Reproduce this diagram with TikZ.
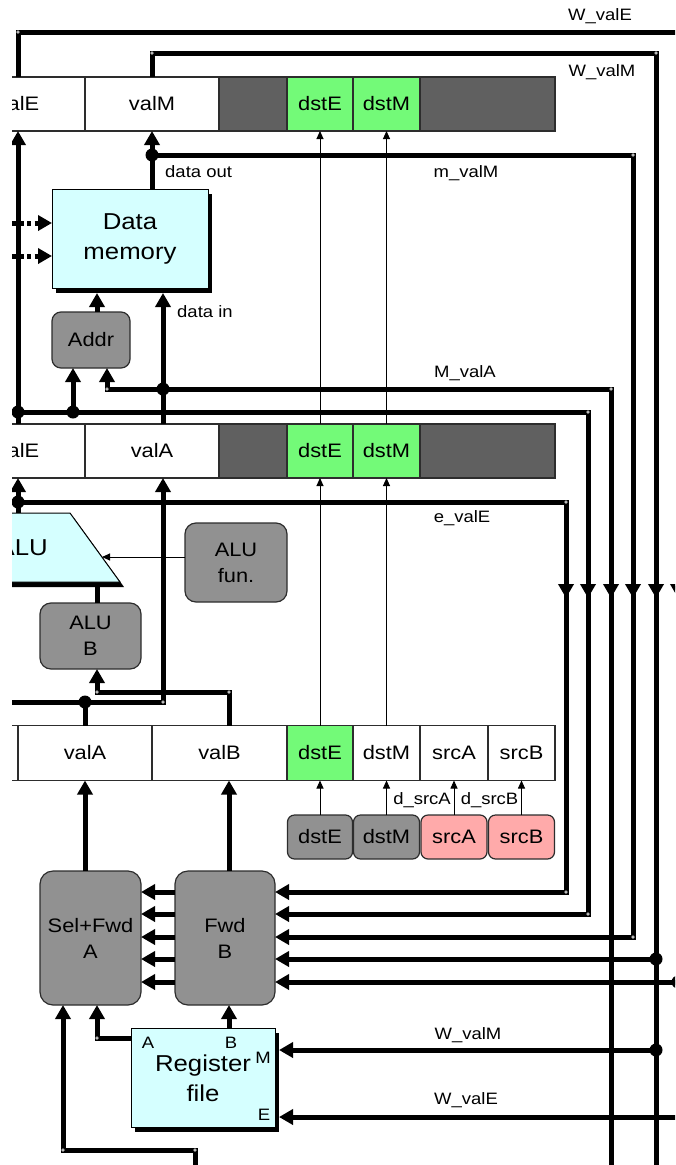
\documentclass[tikz,border=0pt]{standalone}
\usepackage{fontspec}
\setmainfont{Liberation Sans}[FakeStretch=1.12]
\usetikzlibrary{arrows.meta,calc,shadows}
\definecolor{cyanfill}{RGB}{213,255,255}
\definecolor{boxgray}{RGB}{145,145,145}
\definecolor{darkfld}{RGB}{96,96,96}
\definecolor{greenfld}{RGB}{115,250,120}
\definecolor{pinkfld}{RGB}{255,170,170}
\definecolor{bord}{RGB}{45,45,45}
\newcommand\fmain{\fontsize{19.5}{26}\selectfont}
\newcommand\fbig{\fontsize{23}{30}\selectfont}
\newcommand\fsmall{\fontsize{16.5}{20}\selectfont}
\begin{document}
\begin{tikzpicture}[x=1pt,y=-1pt,
 fld/.style={draw=bord,line width=1.2pt,minimum height=54pt,inner sep=0pt,outer sep=0pt,font=\fmain,fill=white},
 dk/.style={fld,fill=darkfld},
 gr/.style={fld,fill=greenfld},
 rbox/.style={draw=bord,line width=1.2pt,fill=boxgray,rounded corners=9pt,inner sep=0pt,outer sep=0pt,font=\fmain,align=center},
 pbox/.style={rbox,fill=pinkfld},
 cbox/.style={draw=black,line width=1pt,fill=cyanfill,inner sep=0pt,outer sep=0pt,align=center},
 dshadow/.style={drop shadow={shadow xshift=4pt,shadow yshift=-5pt,fill=black,opacity=1}},
 wire/.style={line width=5pt},
 thinw/.style={line width=0.9pt},
 wa/.style={wire,-{Triangle[length=14pt,width=15pt]}},
 ta/.style={thinw,-{Triangle[length=8pt,width=7pt]}},
 dot/.style={circle,fill=black,minimum size=13pt,inner sep=0pt,outer sep=0pt},
 cdot/.style={circle,fill=white,draw=gray,line width=0.4pt,minimum size=3pt,inner sep=0pt,outer sep=0pt},
 lbl/.style={font=\fsmall,inner sep=0pt},
]
\useasboundingbox (0,0) rectangle (675,1165);
\fill[white] (0,0) rectangle (675,1165);
\clip (12,0) rectangle (675,1165);

% ---------- W register ----------
\node[fld,minimum width=134pt] (WvalE) at (18,104) {valE};
\node[fld,minimum width=134pt] (WvalM) at (152,104) {valM};
\node[dk,minimum width=68pt] (Wg1) at (253,104) {};
\node[gr,minimum width=66pt] (WdstE) at (320,104) {dstE};
\node[gr,minimum width=67pt] (WdstM) at (386.5,104) {dstM};
\node[dk,minimum width=135pt] (Wg2) at (487.5,104) {};

% ---------- M register ----------
\node[fld,minimum width=134pt] (MvalE) at (18,451) {valE};
\node[fld,minimum width=134pt] (MvalA) at (152,451) {valA};
\node[dk,minimum width=68pt] (Mg1) at (253,451) {};
\node[gr,minimum width=66pt] (MdstE) at (320,451) {dstE};
\node[gr,minimum width=67pt] (MdstM) at (386.5,451) {dstM};
\node[dk,minimum width=135pt] (Mg2) at (487.5,451) {};

% ---------- E register ----------
\node[fld,minimum width=134pt,minimum height=55pt] (Ec) at (-49,753) {};
\node[fld,minimum width=134pt,minimum height=55pt] (EvalA) at (85,753) {valA};
\node[fld,minimum width=135pt,minimum height=55pt] (EvalB) at (219.5,753) {valB};
\node[gr,minimum width=66pt,minimum height=55pt] (EdstE) at (320,753) {dstE};
\node[fld,minimum width=67pt,minimum height=55pt] (EdstM) at (386.5,753) {dstM};
\node[fld,minimum width=68pt,minimum height=55pt] (EsrcA) at (454,753) {srcA};
\node[fld,minimum width=67pt,minimum height=55pt] (EsrcB) at (521.5,753) {srcB};

% ---------- decode small boxes ----------
\node[rbox,minimum width=65pt,minimum height=44pt,rounded corners=7pt] (DdstE) at (320,837) {dstE};
\node[rbox,minimum width=66pt,minimum height=44pt,rounded corners=7pt] (DdstM) at (386.5,837) {dstM};
\node[pbox,minimum width=66pt,minimum height=44pt,rounded corners=7pt] (DsrcA) at (454,837) {srcA};
\node[pbox,minimum width=66pt,minimum height=44pt,rounded corners=7pt] (DsrcB) at (521.5,837) {srcB};

% ---------- blocks ----------
\node[cbox,dshadow,minimum width=156pt,minimum height=99pt,font=\fbig] (DM) at (130,238.5) {Data\\memory};
\node[rbox,minimum width=78pt,minimum height=56pt] (Addr) at (91,340) {Addr};
\fill[black] (-56,518) -- (74,518) -- (124,587) -- (-56,587) -- cycle;
\draw[fill=cyanfill,line width=1pt] (-60,513) -- (70,513) -- (120,582) -- (-60,582) -- cycle;
\node[font=\fbig,anchor=east,inner sep=0pt] (ALU) at (48,548) {ALU};
\node[rbox,minimum width=102pt,minimum height=79pt,rounded corners=11pt] (ALUfun) at (236,562.5) {ALU\\fun.};
\node[rbox,minimum width=101pt,minimum height=66pt,rounded corners=11pt] (ALUB) at (90.5,636) {ALU\\B};
\node[rbox,minimum width=101pt,minimum height=134pt,rounded corners=13pt] (SFA) at (90.5,938) {Sel+Fwd\\A};
\node[rbox,minimum width=100pt,minimum height=134pt,rounded corners=13pt] (FB) at (225,938) {Fwd\\B};
\node[cbox,dshadow,minimum width=144pt,minimum height=99pt] (RF) at (203,1077.5) {};
\node[font=\fbig,align=center,inner sep=0pt] (RFt) at (203,1078) {Register\\file};
\node[lbl] (RFA) at (148,1043) {A};
\node[lbl] (RFB) at (231,1043) {B};
\node[lbl] (RFM) at (263,1058) {M};
\node[lbl] (RFE) at (264,1115) {E};

% ---------- junction dots (positions) ----------
\coordinate (jmv) at (152,155);
\coordinate (jme) at (18,412);
\coordinate (jme2) at (73,412);
\coordinate (jma) at (163,389);
\coordinate (jev) at (18,502);
\coordinate (jea) at (85,702);
\coordinate (jw1) at (656,959);
\coordinate (jw2) at (656,1050);
\coordinate (jw3) at (678,982);
\coordinate (farR) at (720,0);

% ---------- W_valE / W_valM ----------
\draw[wire] (WvalE.north) |- (farR |- 0,32);
\draw[wire] (678,32) -- (jw3) -- (678,1175);
\draw[wire] (WvalM.north) |- (656,53) -- (656,1175);

% ---------- memory stage ----------
\draw[wa] (DM.north -| jmv) -- (WvalM.south);
\draw[wa] (jmv) -| (633,937) -- (FB.east |- 0,937);
\draw[wa] (MvalE.north) -- (WvalE.south);
\draw[wa] (jme) -| (588,914) -- (FB.east |- 0,914);
\draw[wa] (jme2) -- (Addr.south -| jme2);
\draw[wa] (MvalA.north -| jma) -- (163,293);
\draw[wa] (jma) -| ($(Addr.south)+(16,0)$);
\draw[wire] (jma) -| (611,1175);
\draw[wa] ($(Addr.north)+(6,0)$) -- (97,293);
\draw[line width=5pt,dash pattern=on 4pt off 3.5pt,-{Triangle[length=14pt,width=15pt]}] (12,223) -- (DM.west |- 0,223);
\draw[line width=5pt,dash pattern=on 4pt off 3.5pt,-{Triangle[length=14pt,width=15pt]}] (12,256) -- (DM.west |- 0,256);

% ---------- execute stage ----------
\draw[wa] (18,513) -- (MvalE.south);
\draw[wa] (jev) -| (566,892) -- (FB.east |- 0,892);
\draw[wire] (EvalA.north) -- (jea);
\draw[wa] (0,702) -| (MvalA.south -| jma);
\draw[wa] (EvalB.north -| 229,0) |- (97,692) -- (ALUB.south -| 97,0);
\draw[wire] (ALUB.north -| 97,0) -- (97,586);
\draw[ta] (ALUfun.west |- 0,557) -- (102,557);

% thin dst wires
\draw[ta] (EdstE.north) -- (MdstE.south);
\draw[ta] (MdstE.north) -- (WdstE.south);
\draw[ta] (EdstM.north) -- (MdstM.south);
\draw[ta] (MdstM.north) -- (WdstM.south);

% ---------- decode ----------
\draw[ta] (DdstE.north) -- (EdstE.south);
\draw[ta] (DdstM.north) -- (EdstM.south);
\draw[ta] (DsrcA.north) -- (EsrcA.south);
\draw[ta] (DsrcB.north) -- (EsrcB.south);
\node[lbl,anchor=east] (lsa) at (451,800) {d\_srcA};
\node[lbl,anchor=east] (lsb) at (518.5,800) {d\_srcB};

\draw[wa] (EvalA.south |- SFA.north) -- (EvalA.south);
\draw[wa] (FB.north -| 229,0) -- (EvalB.south -| 229,0);
\foreach \yy in {892,914,937,959,982}
  \draw[wa] (FB.west |- 0,\yy) -- (SFA.east |- 0,\yy);

\draw[wa] (jw1) -- (FB.east |- jw1);
\draw[wa] (jw3) -- (FB.east |- jw3);
\draw[wa] (jw2) -- (279,1050);
\draw[wa] (farR |- 0,1117) -- (279,1117);

\draw[wa] (RF.north -| 229,0) -- (FB.south -| 229,0);
\draw[wa] (RF.west |- 0,1038) -| (SFA.south -| 97,0);
\draw[wa] (195,1175) |- (63,1150) -- (SFA.south -| 63,0);

% down arrowheads on right bus
\foreach \xx in {566,588,611,633,656,678}
  \draw[wa] (\xx,575) -- (\xx,598);

% dots
\foreach \c in {jmv,jme,jme2,jma,jev,jea,jw1,jw2,jw3}
  \node[dot] at (\c) {};

% corner joints
\foreach \p in {{18,32},{152,53},{656,53},{633,155},{633,937},{588,412},{588,914},{611,389},{107,389},{566,502},{566,892},{163,702},{229,692},{97,692},{97,1038},{63,1150},{195,1150}}
  \node[cdot] at (\p) {};

% ---------- labels ----------
\node[lbl] (l1) at (600,16) {W\_valE};
\node[lbl] (l2) at (602,72) {W\_valM};
\node[lbl] (l3) at (466,173) {m\_valM};
\node[lbl,anchor=west] (l4) at (165,172) {data out};
\node[lbl,anchor=west] (l5) at (177,312) {data in};
\node[lbl] (l6) at (465,373) {M\_valA};
\node[lbl] (l7) at (462,518) {e\_valE};
\node[lbl] (l8) at (468,1035) {W\_valM};
\node[lbl] (l9) at (466,1100) {W\_valE};
\end{tikzpicture}
\end{document}
